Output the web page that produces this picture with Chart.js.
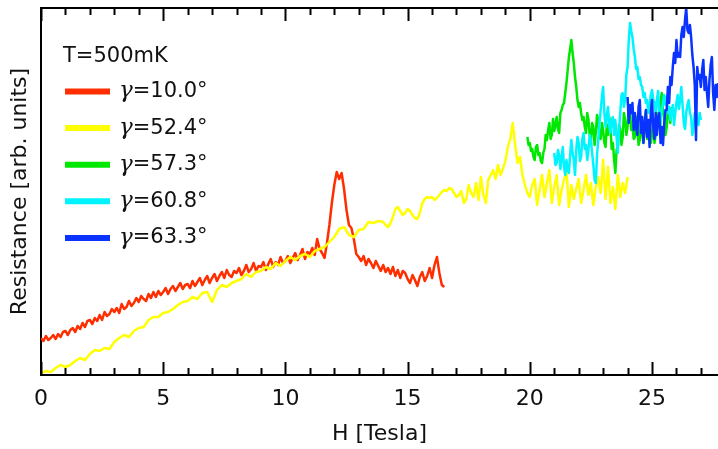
<!DOCTYPE html>
<html>
<head>
<meta charset="utf-8">
<script src="https://cdn.jsdelivr.net/npm/chart.js@4/dist/chart.umd.min.js"></script>
<style>
  html, body { margin: 0; padding: 0; background: #ffffff; }
  #wrap { width: 718px; height: 449px; }
</style>
</head>
<body>
<div id="wrap"><canvas id="c" width="718" height="449"></canvas></div>
<script>
// ---------- data ----------
const seriesLabels = ["10.0", "52.4", "57.3", "60.8", "63.3"];
const seriesColors = ["#ff2e00", "#ffff00", "#00e800", "#00f4ff", "#0a33ff"];
const legendTitle = "T=500mK";
const xTitle = "H [Tesla]";
const yTitle = "Resistance [arb. units]";
const xMajorTicks = [0, 5, 10, 15, 20, 25];
const xMinorTicks = [0,1,2,3,4,5,6,7,8,9,10,11,12,13,14,15,16,17,18,19,20,21,22,23,24,25,26,27];

// sampling grid of each trace (start field, step in Tesla)
const redStart = 0,        redStep = 0.1;
const yellowLowStart = 0,  yellowLowStep = 0.2;   // 0 .. 13.8 T
const yellowHighStart = 14, yellowHighStep = 0.1; // 14 .. 24 T
const greenStart = 19.9,   greenStep = 0.05;
const cyanStart = 21.0,    cyanStep = 0.05;
const blueStart = 24.0,    blueStep = 0.05;

// resistance values (arb. units)
const redR = [
  37,34,39,35,37,40,36,41,38,43,
  44,40,45,47,43,49,46,52,48,54,
  55,51,57,54,60,55,63,59,61,66,
  63,67,62,71,66,68,74,69,72,77,
  73,79,76,74,81,77,83,78,84,80,
  83,87,81,86,89,84,88,92,86,90,
  91,87,94,89,93,97,90,95,99,92,
  97,101,94,99,103,97,105,100,98,104,
  102,107,100,104,110,103,106,112,104,109,
  108,113,105,111,116,108,113,110,118,112,
  114,119,112,117,122,115,120,126,116,123,
  121,127,120,136,126,122,117,132,150,172,
  190,203,196,202,186,165,150,147,136,121,
  118,114,119,110,116,112,107,114,109,104,
  110,103,107,101,108,99,105,97,104,102,
  96,92,100,95,89,98,103,94,99,107,
  97,110,118,102,90,88
];
const yellowLowR = [
  2,4,3,7,10,8,10,14,17,15,
  21,25,24,27,26,33,37,40,38,44,
  47,48,55,58,58,62,63,66,70,73,
  74,78,76,82,83,73,85,90,88,92,
  94,96,101,98,103,104,108,106,112,109,
  114,118,115,119,121,118,124,126,128,133,
  138,146,148,140,138,145,146,153,152,154
];
const yellowHighR = [
  153,150,148,152,158,166,168,164,160,162,
  166,164,160,157,156,162,172,176,178,177,
  178,175,177,180,183,185,184,187,186,182,
  178,180,184,172,176,190,182,178,192,175,
  198,180,172,195,200,205,196,210,200,206,
  214,228,236,252,230,212,218,200,190,182,
  178,190,196,170,185,200,178,192,205,172,
  188,200,170,185,195,205,168,190,176,186,
  196,172,185,200,180,192,170,188,198,182,
  215,176,208,172,188,166,200,178,192,182,
  198
];
const greenR = [
  238,230,232,224,226,218,215,228,230,220,
  222,214,212,222,226,240,235,245,252,236,
  240,256,244,250,258,246,242,262,265,270,
  272,282,292,305,318,326,335,322,312,298,
  288,275,268,272,262,255,258,248,242,262,
  255,240,235,252,248,230,242,260,255,238,
  236,252,245,232,228,250,240,258,248,226,
  232,215,202,225,228,250,246,230,238,262,
  255,240,248,270,265,245,250,236,238,258,
  246,230,235,255,242,232,252,264,236,245,
  248,232,240,255,232,240,250,262,262,274,
  282,262,258,240,248,266,262,252,268
];
const cyanR = [
  222,210,212,225,220,206,218,228,208,200,
  215,205,202,220,235,222,215,200,225,238,
  232,214,218,236,242,226,230,215,225,240,
  235,222,210,195,192,220,235,252,265,278,
  288,262,248,260,268,250,242,255,258,240,
  255,238,222,245,262,280,282,268,275,300,
  308,335,352,344,338,326,318,306,308,296,
  298,290,288,278,282,272,275,262,268,280,
  285,276,272,262,275,284,258,250,265,272,
  280,270,278,262,268,255,262,270,250,262,
  272,280,266,275,288,270,252,246,262,270,
  275,262,258,240,248,262,262,255,250,262,
  255
];
const blueR = [
  278,252,270,262,272,245,262,248,240,268,
  275,242,258,232,250,265,238,255,228,262,
  275,248,236,262,240,258,262,232,248,230,
  252,265,
  265,288,272,298,290,308,322,312,335,318,
  322,318,340,348,338,355,367,345,342,350,
  338,320,308,290,235,308,296,300,288,305,
  315,285,298,282,268,295,310,318,282,265,
  290,278,292
];

// ---------- build ----------
function toPoints(start, step, vals) {
  return vals.map((v, i) => ({ x: Math.round((start + i * step) * 1000) / 1000, y: v }));
}
const traces = [
  toPoints(redStart, redStep, redR),
  toPoints(yellowLowStart, yellowLowStep, yellowLowR).concat(toPoints(yellowHighStart, yellowHighStep, yellowHighR)),
  toPoints(greenStart, greenStep, greenR),
  toPoints(cyanStart, cyanStep, cyanR),
  toPoints(blueStart, blueStep, blueR)
];
const datasets = traces.map((pts, i) => ({
  label: "\u03b3=" + seriesLabels[i] + "\u00b0",
  angle: seriesLabels[i],
  data: pts,
  borderColor: seriesColors[i],
  backgroundColor: seriesColors[i],
  borderWidth: 2.5,
  pointRadius: 0,
  tension: 0,
  fill: false,
  borderJoinStyle: "round",
  order: traces.length - i
}));

const TXT = "#111111";
const SANS = "'DejaVu Sans', sans-serif";

const framePlugin = {
  id: "frame",
  afterDraw(chart) {
    const ctx = chart.ctx;
    const a = chart.chartArea;
    const xs = chart.scales.x;
    ctx.save();
    ctx.strokeStyle = "#000";
    ctx.lineWidth = 2;
    ctx.beginPath();
    ctx.moveTo(a.left, a.top);
    ctx.lineTo(a.right, a.top);
    ctx.stroke();
    ctx.beginPath();
    xMinorTicks.forEach(v => {
      const px = Math.round(xs.getPixelForValue(v)) + 0.5;
      const len = xMajorTicks.includes(v) ? 13 : 7;
      ctx.moveTo(px, a.bottom);
      ctx.lineTo(px, a.bottom - len);
      ctx.moveTo(px, a.top);
      ctx.lineTo(px, a.top + len);
    });
    ctx.stroke();

    // legend
    ctx.fillStyle = TXT;
    ctx.textBaseline = "middle";
    ctx.textAlign = "left";
    ctx.font = "21px " + SANS;
    ctx.fillText(legendTitle, 63, 57);
    chart.data.datasets.forEach((ds, i) => {
      const y = 91.5 + i * 36.6;
      ctx.strokeStyle = ds.borderColor;
      ctx.lineWidth = 6;
      ctx.beginPath();
      ctx.moveTo(65, y);
      ctx.lineTo(110, y);
      ctx.stroke();
      ctx.fillStyle = TXT;
      ctx.font = "italic 23px 'DejaVu Serif', serif";
      ctx.fillText("\u03b3", 119, y);
      const gw = ctx.measureText("\u03b3").width;
      ctx.font = "21px " + SANS;
      ctx.fillText("=" + ds.angle + "\u00b0", 119 + gw, y);
    });
    ctx.restore();
  }
};

new Chart(document.getElementById("c"), {
  type: "line",
  data: { datasets },
  options: {
    responsive: false,
    animation: false,
    devicePixelRatio: 1,
    layout: { padding: { top: 8, right: 0, left: 0, bottom: 0 } },
    plugins: { legend: { display: false }, tooltip: { enabled: false } },
    scales: {
      x: {
        type: "linear",
        min: 0,
        max: 27.7,
        afterBuildTicks(scale) { scale.ticks = xMajorTicks.map(v => ({ value: v })); },
        afterFit(scale) { scale.height = 74; },
        grid: { display: false, drawTicks: false },
        border: { display: true, color: "#000", width: 2 },
        ticks: { color: TXT, font: { family: SANS, size: 22 }, padding: 11, maxRotation: 0, autoSkip: false },
        title: { display: true, text: xTitle, color: TXT, font: { family: SANS, size: 22 }, padding: { top: 0, bottom: 2 } }
      },
      y: {
        type: "linear",
        min: 0,
        max: 367,
        afterFit(scale) { scale.width = 41; },
        grid: { display: false, drawTicks: false },
        border: { display: true, color: "#000", width: 2 },
        ticks: { display: false },
        title: { display: true, text: yTitle, color: TXT, font: { family: SANS, size: 22 }, padding: { top: 7, bottom: 0 } }
      }
    }
  },
  plugins: [framePlugin]
});
</script>
</body>
</html>
